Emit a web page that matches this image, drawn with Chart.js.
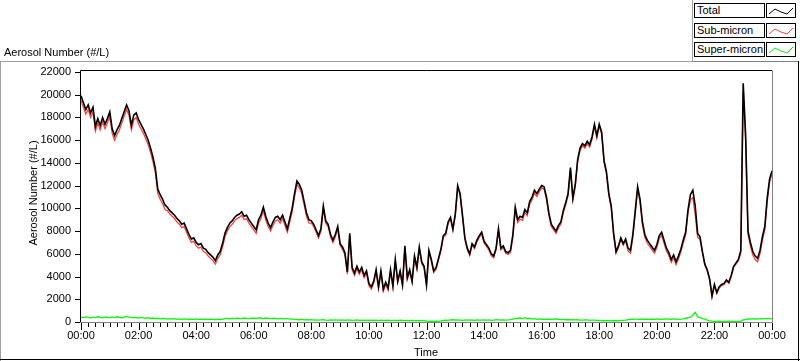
<!DOCTYPE html>
<html><head><meta charset="utf-8">
<script src="https://cdn.jsdelivr.net/npm/chart.js@4/dist/chart.umd.min.js"></script>
<style>
html,body{margin:0;padding:0;background:#fff;}
#wrap{position:relative;width:800px;height:361px;overflow:hidden;background:#fff;font-family:"Liberation Sans",Arial,sans-serif;color:#000;}
#c{position:absolute;left:0;top:0;}
.ln{position:absolute;}
.txt{position:absolute;font-size:11px;line-height:14px;height:14px;white-space:nowrap;}
.lgt{position:absolute;left:694px;width:67px;height:13px;border:1px solid #000;font-size:11px;line-height:13px;padding-left:2px;box-sizing:content-box;white-space:nowrap;background:#fff;}
.lgs{position:absolute;left:766px;width:28px;height:13px;border:1px solid #000;background:#fff;}
.lgs svg{display:block;}
</style>
</head><body>
<div id="wrap">
  <canvas id="c" width="800" height="361"></canvas>
  <div class="ln" style="left:0;top:61px;width:692px;height:1px;background:#a0a0a0"></div>
  <div class="ln" style="left:692px;top:61px;width:107px;height:1px;background:#808080"></div>
  <div class="ln" style="left:692px;top:0;width:1px;height:62px;background:#a0a0a0"></div>
  <div class="ln" style="left:0;top:61px;width:1px;height:300px;background:#a0a0a0"></div>
  <div class="ln" style="left:798px;top:61px;width:1px;height:300px;background:#000"></div>
  <div class="ln" style="left:0;top:359px;width:800px;height:1px;background:#000"></div>

  <div class="txt" id="title" style="left:4px;top:45px;">Aerosol Number (#/L)</div>
  <div class="txt" id="ytitle" style="left:-22px;top:186px;width:110px;text-align:center;transform:rotate(-90deg);transform-origin:55px 7px;">Aerosol Number (#/L)</div>
  <div class="txt" id="xtitle" style="left:386px;top:345px;width:80px;text-align:center;">Time</div>

  <div class="lgt" style="top:3px">Total</div>
  <div class="lgs" style="top:3px"><svg width="28" height="13"><polyline points="2,10 8,5 14,8 20,10 26,4" fill="none" stroke="#000" stroke-width="1"/></svg></div>
  <div class="lgt" style="top:23px">Sub-micron</div>
  <div class="lgs" style="top:23px"><svg width="28" height="13"><polyline points="2,10 8,5 14,8 20,10 26,4" fill="none" stroke="#ff4040" stroke-width="1"/></svg></div>
  <div class="lgt" style="top:42px">Super-micron</div>
  <div class="lgs" style="top:42px"><svg width="28" height="13"><polyline points="2,10 8,5 14,8 20,10 26,4" fill="none" stroke="#00ff00" stroke-width="1"/></svg></div>
</div>
<script>
// ---- data (5-minute samples, 00:00 to 24:00) ----
const sampleStepMinutes = 5;
const seriesNames = ["Total", "Sub-micron", "Super-micron"];
const xTickLabels = ["00:00","02:00","04:00","06:00","08:00","10:00","12:00","14:00","16:00","18:00","20:00","22:00","00:00"];
const yTickValues = [0,2000,4000,6000,8000,10000,12000,14000,16000,18000,20000,22000];

const totalValues = [
 19900,19300,18700,19100,18400,18900,17200,17900,17300,18000,17400,17900,
 18500,17000,16400,16900,17300,17900,18500,19100,18600,17300,18200,18400,
 17800,17400,17000,16500,16000,15300,14500,13500,11700,11200,10800,10300,
 10100,9800,9600,9400,9100,8900,8600,8700,8200,7700,7300,7400,
 7000,6800,6900,6500,6400,6100,5900,5700,5400,5900,6200,6900,
 7800,8300,8700,8900,9200,9400,9500,9700,9300,9400,9000,8700,
 8400,8100,9000,9400,10100,9300,8700,8300,8800,9200,9300,9000,
 9400,8800,8200,9100,10000,11300,12400,12100,11600,10600,9600,9000,
 8900,8600,8100,7600,8200,10200,8900,8600,7700,7200,7700,8400,
 6900,6600,6100,4400,7800,4800,4300,4900,4400,4800,4100,4500,
 3400,3100,3600,4600,3100,4500,2900,3500,3000,4600,3200,5500,
 3600,4500,3300,6700,3900,4600,3600,5800,4800,6600,5300,4900,
 3300,6300,5500,4500,4800,5600,6400,7600,7800,8800,9200,8200,
 9500,12000,11300,9400,7400,6500,6000,6900,6600,7200,7600,7900,
 7100,6800,6500,6000,5800,6500,8200,6500,6700,6200,6100,6300,
 7700,10100,9000,9300,9200,9900,9600,10600,11000,11600,11300,11700,
 12000,11900,11000,9600,8600,8300,8000,8500,8800,9800,10500,11300,
 13600,10900,12100,14300,15300,15700,15500,15900,15600,16300,17400,16400,
 17400,16700,14200,13200,11300,10200,7800,6200,6700,7400,6900,7300,
 6500,6300,7700,9800,11900,10800,8800,7700,7200,6900,6600,6300,
 6800,7600,7900,7200,6500,6100,5500,5900,5300,5800,6400,7200,
 7900,9900,11200,11600,10200,7800,7500,6200,5100,4600,3800,2300,
 3300,2600,3100,3300,3400,3700,3500,4100,4900,5200,5500,6300,
 21000,16500,8000,7000,6200,5800,5600,6300,7500,8400,10900,12600,
 13300
];

const subMicronValues = [
 19500,18900,18300,18700,18000,18500,16800,17500,16900,17600,17000,17500,
 18100,16600,16000,16500,16900,17500,18100,18700,18200,16900,17800,18000,
 17400,17000,16600,16100,15600,14900,14100,13100,11300,10800,10400,9900,
 9800,9500,9300,9100,8800,8600,8300,8400,7900,7400,7000,7100,
 6700,6500,6600,6200,6100,5800,5600,5400,5100,5600,5900,6600,
 7500,8000,8400,8600,8900,9100,9200,9400,9000,9100,8700,8400,
 8100,7800,8700,9100,9800,9000,8400,8000,8500,8900,9000,8700,
 9100,8500,7900,8800,9700,11000,12100,11800,11300,10300,9300,8700,
 8700,8400,7900,7400,8000,10000,8700,8400,7500,7000,7500,8200,
 6700,6400,5900,4200,7600,4600,4100,4700,4200,4600,3900,4300,
 3200,2900,3400,4400,2900,4300,2700,3300,2800,4400,3000,5300,
 3450,4350,3150,6550,3750,4450,3450,5650,4650,6450,5150,4750,
 3150,6150,5350,4350,4650,5450,6250,7450,7650,8650,9050,8050,
 9350,11850,11150,9250,7250,6350,5850,6750,6450,7050,7450,7750,
 6950,6650,6350,5850,5650,6350,8050,6350,6550,6050,5950,6150,
 7450,9850,8750,9050,8950,9650,9350,10350,10750,11350,11050,11450,
 11800,11700,10800,9400,8400,8100,7800,8300,8600,9600,10300,11100,
 13400,10700,11900,14100,15100,15500,15300,15700,15400,16100,17200,16200,
 17250,16550,14050,13050,11150,10050,7650,6050,6550,7250,6750,7150,
 6250,6050,7450,9550,11650,10550,8550,7450,6950,6650,6350,6050,
 6550,7350,7650,6950,6250,5850,5250,5650,5050,5550,6150,6950,
 7650,9600,10750,10950,9450,7450,7250,6100,5000,4500,3700,2200,
 3200,2500,3000,3200,3300,3600,3400,4000,4800,5100,5400,6050,
 20400,16000,7700,6700,5900,5500,5300,6000,7200,8100,10600,12300,
 13000
];

const superMicronValues = [
 420,380,450,400,360,430,390,480,410,370,440,400,
 380,430,390,460,400,370,420,500,430,380,410,390,
 350,400,360,330,380,310,350,300,330,280,320,290,
 260,300,250,290,240,270,230,280,250,220,260,240,
 270,230,260,220,250,210,240,230,200,250,220,260,
 290,320,280,330,300,340,310,290,350,320,300,330,
 340,310,360,330,300,350,320,290,340,310,280,320,
 300,270,310,260,250,230,220,200,230,190,210,180,
 200,170,190,160,180,200,170,150,190,160,180,170,
 160,190,150,180,170,140,160,190,150,170,140,160,
 150,170,140,160,130,170,150,140,160,130,150,140,
 130,160,140,120,150,130,140,120,130,110,140,120,
 80,60,70,50,80,60,90,140,170,150,180,200,
 160,190,170,150,180,160,190,170,150,180,160,170,
 190,160,180,150,170,200,180,160,190,170,180,210,
 250,290,320,350,300,380,290,330,260,300,240,280,
 250,220,260,240,230,250,270,240,210,230,200,220,
 190,210,180,200,170,160,190,180,150,170,160,140,
 130,120,110,130,120,100,130,110,120,140,150,160,
 210,240,230,260,250,220,270,240,250,230,260,240,
 270,250,230,260,280,250,240,270,260,230,250,280,
 330,380,420,600,850,450,380,300,250,170,100,70,
 60,50,70,40,60,50,70,60,50,40,60,70,
 180,240,280,260,290,250,280,300,270,290,310,280,
 300
];

// ---- build chart ----
const toPoints = arr => arr.map((v, i) => ({x: i * sampleStepMinutes, y: v}));

const framePlugin = {
  id: 'frame',
  afterDraw(chart) {
    const {ctx, scales: {x, y}} = chart;
    ctx.save();
    ctx.lineWidth = 1;
    ctx.strokeStyle = '#000';
    ctx.beginPath();
    ctx.moveTo(80.5, 322); ctx.lineTo(80.5, 70.5); ctx.lineTo(772, 70.5);
    ctx.stroke();
    ctx.strokeStyle = '#808080';
    ctx.beginPath();
    ctx.moveTo(772.5, 70.5); ctx.lineTo(772.5, 322.5); ctx.lineTo(80, 322.5);
    ctx.stroke();
    ctx.strokeStyle = '#000';
    ctx.beginPath();
    for (const v of yTickValues) {
      const py = Math.round(y.getPixelForValue(v)) + 0.5;
      ctx.moveTo(75, py); ctx.lineTo(80, py);
    }
    ctx.stroke();
    ctx.beginPath();
    for (let m = 0; m <= 1440; m += 15) {
      const px = Math.round(x.getPixelForValue(m)) + 0.5;
      const len = (m % 120 === 0) ? 7 : 4;
      ctx.moveTo(px, 323); ctx.lineTo(px, 323 + len);
    }
    ctx.stroke();
    ctx.restore();
  }
};

new Chart(document.getElementById('c'), {
  type: 'line',
  data: {
    datasets: [
      {label: seriesNames[0], data: toPoints(totalValues), borderColor: '#000000', borderWidth: 1.6, pointRadius: 0, tension: 0, fill: false},
      {label: seriesNames[1], data: toPoints(subMicronValues), borderColor: '#ff4040', borderWidth: 1.3, pointRadius: 0, tension: 0, fill: false},
      {label: seriesNames[2], data: toPoints(superMicronValues), borderColor: '#00ff00', borderWidth: 1.3, pointRadius: 0, tension: 0, fill: false}
    ]
  },
  options: {
    responsive: false,
    animation: false,
    devicePixelRatio: 1,
    layout: {padding: {top: 72, right: 28, left: 0, bottom: 0}},
    plugins: {legend: {display: false}, tooltip: {enabled: false}},
    scales: {
      x: {
        type: 'linear', min: 0, max: 1440,
        grid: {display: false, drawTicks: false},
        border: {display: false},
        ticks: {
          stepSize: 120, autoSkip: false, maxRotation: 0, padding: 7,
          color: '#000', font: {family: 'Liberation Sans', size: 11},
          callback: (v) => xTickLabels[Math.round(v / 120)]
        },
        afterFit: s => { s.height = 39; }
      },
      y: {
        min: 0, max: 22000,
        grid: {display: false, drawTicks: false},
        border: {display: false},
        ticks: {
          stepSize: 2000, padding: 10,
          color: '#000', font: {family: 'Liberation Sans', size: 11},
          callback: (v) => String(v)
        },
        afterFit: s => { s.width = 81; }
      }
    }
  },
  plugins: [framePlugin]
});
</script>
</body></html>
